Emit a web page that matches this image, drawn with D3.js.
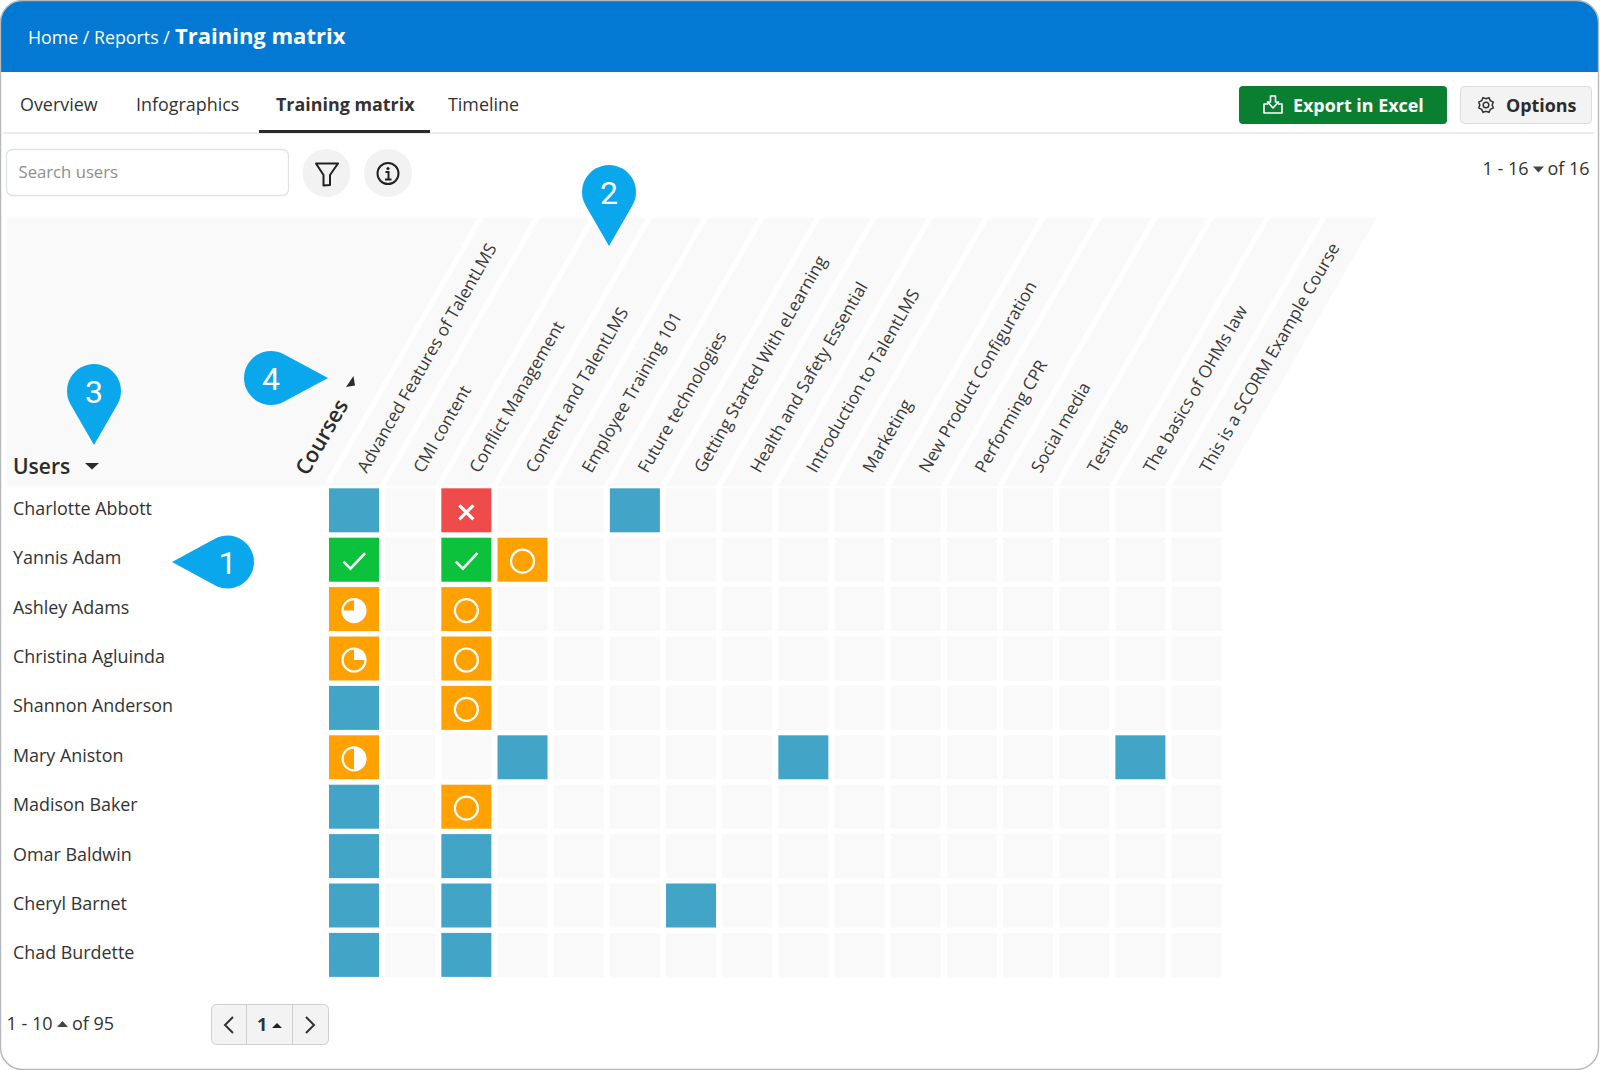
<!DOCTYPE html>
<html><head><meta charset="utf-8">
<script src="https://cdn.jsdelivr.net/npm/d3@7"></script>
<style>
html,body{margin:0;padding:0;background:#fff}
svg{display:block}
text{font-family:"Open Sans",sans-serif;fill:#333}
</style></head><body>
<svg id="c" width="1600" height="1070"></svg>
<script>
const users=["Charlotte Abbott","Yannis Adam","Ashley Adams","Christina Agluinda","Shannon Anderson","Mary Aniston","Madison Baker","Omar Baldwin","Cheryl Barnet","Chad Burdette"];
const courses=["Advanced Features of TalentLMS","CMI content","Conflict Management","Content and TalentLMS","Employee Training 101","Future technologies","Getting Started With eLearning","Health and Safety Essential","Introduction to TalentLMS","Marketing","New Product Configuration","Performing CPR","Social media","Testing","The basics of OHMs law","This is a SCORM Example Course"];
// n = not started, c = completed, f = failed, r = in progress 0%, q = 25%, h = 50%, t = 75%
const statusCharlotte=["n","","f","","","n","","","","","","","","","",""];
const statusYannis=["c","","c","r","","","","","","","","","","","",""];
const statusAshley=["t","","r","","","","","","","","","","","","",""];
const statusChristina=["q","","r","","","","","","","","","","","","",""];
const statusShannon=["n","","r","","","","","","","","","","","","",""];
const statusMary=["h","","","n","","","","","n","","","","","","n",""];
const statusMadison=["n","","r","","","","","","","","","","","","",""];
const statusOmar=["n","","n","","","","","","","","","","","","",""];
const statusCheryl=["n","","n","","","","n","","","","","","","","",""];
const statusChad=["n","","n","","","","","","","","","","","","",""];
const statuses=[statusCharlotte,statusYannis,statusAshley,statusChristina,statusShannon,statusMary,statusMadison,statusOmar,statusCheryl,statusChad];
const crumbs=["Home / Reports / ","Training matrix"];
const tabs=["Overview","Infographics","Training matrix","Timeline"];

const svg=d3.select("#c");
const x=d3.scaleBand().domain(courses).range([329,329+56.17*16-6.15]).paddingInner(6.15/56.17);
const y=d3.scaleBand().domain(users).range([488.3,488.3+49.4*10-5.4]).paddingInner(5.4/49.4);
const fill={n:"#42a5c7",c:"#0cc13b",f:"#f04b4b",r:"#ffa100",q:"#ffa100",h:"#ffa100",t:"#ffa100"};
const txt=(s,px,py,size,o={})=>svg.append("text").attr("x",px).attr("y",py).attr("font-size",size)
  .attr("font-weight",o.w||400).attr("dy",".35em").attr("text-anchor",o.a||"start").style("fill",o.c||"#333")
  .attr("transform",o.t||null).text(s);

// card + header
const clip=svg.append("defs").append("clipPath").attr("id","card");
clip.append("rect").attr("x",0.5).attr("y",0.5).attr("width",1598).attr("height",1069).attr("rx",22);
const g0=svg.append("g").attr("clip-path","url(#card)");
g0.append("rect").attr("width",1600).attr("height",1070).attr("fill","#fff");
g0.append("rect").attr("width",1600).attr("height",72).attr("fill","#0379d3");
svg.append("rect").attr("x",0.5).attr("y",0.5).attr("width",1598).attr("height",1069).attr("rx",22)
  .attr("fill","none").attr("stroke","#b4b8bb").attr("stroke-width",1.4);

txt(crumbs[0],28,38,17.8,{c:"#fff"});
txt(crumbs[1],175,36.5,22,{c:"#fff",w:700});

// tabs
const tabX=[20,136,276,448];
tabs.forEach((t,i)=>txt(t,tabX[i],105,17.9,{w:i==2?700:400}));
svg.append("line").attr("x1",3).attr("x2",1594).attr("y1",133).attr("y2",133).attr("stroke","#e6e6e6").attr("stroke-width",1.6);
svg.append("rect").attr("x",259).attr("y",130).attr("width",171).attr("height",3).attr("fill","#2b2b2b");

// export / options
svg.append("rect").attr("x",1239).attr("y",86).attr("width",208).attr("height",38).attr("rx",4).attr("fill","#0a7f32");
txt("Export in Excel",1293,105.5,17.9,{c:"#fff",w:700});
const dl=svg.append("g").attr("transform","translate(1273,105)").attr("fill","none").attr("stroke","#fff").attr("stroke-width",1.6).attr("stroke-linejoin","round");
dl.append("path").attr("d","M-2.5,-9H2.5V-3H5.5L0,3L-5.5,-3H-2.5Z");
dl.append("path").attr("d","M-5,-1H-9V8H9V-1H5");
svg.append("rect").attr("x",1460.5).attr("y",86.5).attr("width",131).attr("height",37).attr("rx",4).attr("fill","#f3f3f3").attr("stroke","#dcdcdc");
txt("Options",1506,105.5,17.9,{w:700,c:"#2c2c2c"});
const gear=svg.append("g").attr("transform","translate(1486,105)").attr("fill","none").attr("stroke","#333").attr("stroke-width",1.5);
gear.append("circle").attr("r",2.8);
gear.append("path").attr("d",d3.lineRadial().curve(d3.curveLinearClosed)(d3.range(16).map(i=>[i*Math.PI/8,(i%2)?7.8:6.2])));

// search row
svg.append("rect").attr("x",6.5).attr("y",149.5).attr("width",282).attr("height",46).attr("rx",6).attr("fill","#fff").attr("stroke","#dfe3e6").attr("stroke-width",1.3);
txt("Search users",18.5,172,16.7,{c:"#8e8e8e"});
svg.append("circle").attr("cx",326.5).attr("cy",173).attr("r",24).attr("fill","#f2f2f2");
svg.append("circle").attr("cx",388).attr("cy",173).attr("r",24).attr("fill","#f2f2f2");
svg.append("path").attr("d","M316,163.5H338L330,175V185L323.5,185.5V175Z").attr("fill","none").attr("stroke","#222").attr("stroke-width",2).attr("stroke-linejoin","round");
svg.append("circle").attr("cx",388).attr("cy",173.5).attr("r",10.5).attr("fill","none").attr("stroke","#222").attr("stroke-width",2);
svg.append("circle").attr("cx",388).attr("cy",168.5).attr("r",1.6).attr("fill","#222");
svg.append("path").attr("d","M385.5,172H388.5V179M385,179.5H391.5").attr("fill","none").attr("stroke","#222").attr("stroke-width",2);
txt("1 - 16",1482.5,169,18);
svg.append("path").attr("d","M1533,166.5H1544L1538.5,172.5Z").attr("fill","#444");
txt("of 16",1547.5,169,18);

// header background and sheared course columns
const hTop=218,hBot=486,sh=(hBot-hTop)*Math.tan(Math.PI/6);
svg.append("path").attr("d",`M7,${hTop}H${x(courses[0])-6+sh}L${x(courses[0])-6},${hBot}H7Z`).attr("fill","#f9f9f9");
svg.append("g").selectAll("path").data(courses).join("path").attr("fill","#f9f9f9")
  .attr("d",d=>`M${x(d)},${hBot}L${x(d)+sh},${hTop}H${x(d)+x.bandwidth()+sh}L${x(d)+x.bandwidth()},${hBot}Z`);
svg.append("g").selectAll("text").data(courses).join("text")
  .attr("transform",d=>`translate(${x(d)+32.5},${hBot-15}) rotate(-60)`)
  .attr("dy",".35em").attr("font-size",17.2).style("fill","#3a3a3a").text(d=>d);
txt("Users",13,467,21,{w:600,c:"#2b2b2b"});
svg.append("path").attr("d","M85,463H99L92,469.5Z").attr("fill","#2b2b2b");
txt("Courses",301,473,21.5,{w:600,c:"#2b2b2b",t:"rotate(-60 301 473)"});
svg.append("path").attr("d","M346,387L355,385.5L353.5,376Z").attr("fill","#2b2b2b");

// matrix
const rows=svg.append("g").selectAll("g").data(users).join("g").attr("transform",d=>`translate(0,${y(d)})`);
rows.append("text").attr("x",13).attr("y",y.bandwidth()/2-1.7).attr("dy",".35em").attr("font-size",17.9).style("fill","#333").text(d=>d);
const h=y.bandwidth(),w=x.bandwidth();
const cells=rows.selectAll("g").data((u,i)=>courses.map((c,j)=>({c,s:statuses[i][j]}))).join("g").attr("transform",d=>`translate(${x(d.c)},0)`);
cells.append("rect").attr("width",w).attr("height",h).attr("fill",d=>fill[d.s]||"#f9f9f9");
const ico=cells.filter(d=>d.s&&d.s!="n").append("g").attr("transform",`translate(${w/2},${h/2+1.5})`);
ico.filter(d=>d.s=="c").append("path").attr("d","M-10.5,0.5L-3.5,7.5L11,-8").attr("fill","none").attr("stroke","#fff").attr("stroke-width",2.6);
ico.filter(d=>d.s=="f").append("path").attr("d","M-7,-6.5L7,7.5M7,-6.5L-7,7.5").attr("fill","none").attr("stroke","#fff").attr("stroke-width",3.2);
const prog=ico.filter(d=>"rqht".includes(d.s));
prog.append("circle").attr("r",11.5).attr("fill","none").attr("stroke","#fff").attr("stroke-width",2.2);
const share={r:0,q:.25,h:.5,t:.75};
prog.append("path").attr("fill","#fff").attr("d",d=>d3.arc()({innerRadius:0,outerRadius:11.5,startAngle:0,endAngle:share[d.s]*2*Math.PI}));

// footer pagination
txt("1 - 10",6.5,1024,18);
svg.append("path").attr("d","M57,1027H68L62.5,1021Z").attr("fill","#444");
txt("of 95",72,1024,18);
svg.append("rect").attr("x",211.5).attr("y",1004.5).attr("width",117).attr("height",40).attr("rx",5).attr("fill","#f3f3f3").attr("stroke","#cfcfcf");
svg.append("path").attr("d","M246.5,1005V1044M292.5,1005V1044").attr("stroke","#cfcfcf");
svg.append("path").attr("d","M233,1017L225,1025L233,1033M306,1017L314,1025L306,1033").attr("fill","none").attr("stroke","#333").attr("stroke-width",2);
txt("1",257,1025,18,{w:700});
svg.append("path").attr("d","M272,1028H282L277,1023Z").attr("fill","#222");

// callout pins
function pin(cx,cy,r,tx,ty,label){
  const a=Math.atan2(ty-cy,tx-cx),d=Math.hypot(tx-cx,ty-cy),b=Math.acos(r/d);
  const p=d3.path();p.moveTo(tx,ty);
  p.lineTo(cx+r*Math.cos(a+b),cy+r*Math.sin(a+b));
  p.arc(cx,cy,r,a+b,a-b);p.closePath();
  svg.append("path").attr("d",p.toString()).attr("fill","#0aa7ed");
  svg.append("text").attr("x",cx).attr("y",cy).attr("dy",".36em").attr("text-anchor","middle").attr("font-size",32)
    .style("font-family","Roboto,sans-serif").style("fill","#fff").text(label);
}
pin(227.5,562,26.5,172,562,"1");
pin(609,192,27,609,246,"2");
pin(94,391,27,94,445,"3");
pin(271,378,27,328,378,"4");
</script></body></html>
